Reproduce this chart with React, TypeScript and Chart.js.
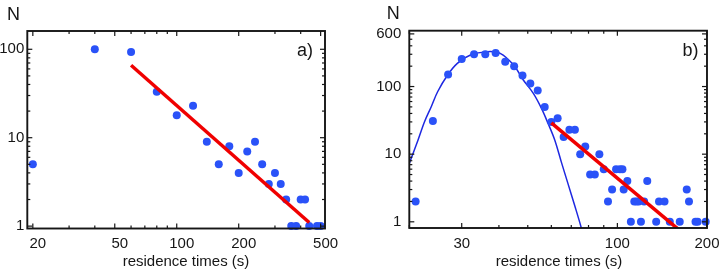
import React, { useEffect, useRef } from 'react';
import { Chart, registerables } from 'chart.js';
Chart.register(...registerables);

// ---------- Panel a) ----------
const aTimes = [20, 40, 60, 80, 100, 120, 140, 160, 180, 200, 220, 240, 260, 280, 300, 320, 340, 360, 380, 400, 420, 440, 480, 500];
const aCounts = [5, 100, 93, 33, 18, 23, 9, 5, 8, 4, 7, 9, 5, 3, 4, 3, 2, 1, 1, 2, 2, 1, 1, 1];
const aFitTimes = [60, 440];
const aFitCounts = [66, 1.1];
const aXTicks = [20, 50, 100, 200, 500];
const aYTicks = [1, 10, 100];

// ---------- Panel b) ----------
const bTimes = [21, 24, 27, 30, 33, 36, 39, 42, 45, 48, 51, 54, 57, 60, 63, 66, 69, 72, 75, 78, 81, 84, 87, 90, 93, 96, 99, 102, 104, 105, 108, 111, 114, 116, 118, 120, 123, 126, 135, 138, 144, 150, 162, 171, 174, 183, 186, 198];
const bCounts = [2, 31, 150, 255, 300, 300, 313, 233, 200, 146, 111, 87, 50, 30, 34, 18, 23, 23, 10, 13, 5, 5, 10, 6, 2, 3, 6, 6, 6, 3, 4, 1, 2, 2, 2, 1, 2, 4, 1, 2, 2, 1, 1, 3, 2, 1, 1, 1];
const bCurveTimes = [20, 21.4, 22.5, 23.7, 24.9, 26.9, 29.0, 32.1, 36.5, 40.4, 44.8, 48.3, 52.2, 55.6, 58.5, 61.6, 64.8, 68.2, 71.8, 75.5, 76.5];
const bCurveCounts = [7.3, 16.2, 30.2, 50.3, 83.8, 148, 220, 292, 327, 310, 208, 125, 79.3, 47.6, 28.5, 16.2, 7.7, 3.7, 1.77, 0.84, 0.65];
const bFitTimes = [60, 160];
const bFitCounts = [29, 0.78];
const bXTicks = [30, 100, 200];
const bYTicks = [1, 10, 100, 600];

const FONT = "'Liberation Sans', Arial, Helvetica, sans-serif";
const BLUE = 'rgb(42, 82, 248)';
const CURVE = 'rgb(30, 40, 225)';
const RED = 'rgb(240, 0, 0)';
const INK = '#161616';

const pairs = (xs: number[], ys: number[]) => xs.map((x, i) => ({ x, y: ys[i] }));

function logSteps(min: number, max: number) {
  const out: number[] = [];
  for (let d = 1; d <= 10000; d *= 10) {
    for (let m = 1; m <= 9; m++) {
      const v = m * d;
      if (v >= min * 0.999 && v <= max * 1.001) out.push(v);
    }
  }
  return out;
}

const framePlugin = {
  id: 'frame',
  afterDatasetsDraw(chart: any, _args: any, opts: any) {
    const { ctx, chartArea: a, scales } = chart;
    const xs = scales.x, ys = scales.y;
    ctx.save();
    ctx.strokeStyle = INK;
    const seg = (x1: number, y1: number, x2: number, y2: number) => {
      ctx.beginPath(); ctx.moveTo(x1, y1); ctx.lineTo(x2, y2); ctx.stroke();
    };
    ctx.lineWidth = 1.2;
    logSteps(xs.min, xs.max).forEach((v) => {
      const x = xs.getPixelForValue(v);
      const len = opts.xMajor.includes(v) ? 5 : 3;
      seg(x, a.bottom, x, a.bottom - len);
      seg(x, a.top, x, a.top + len);
    });
    logSteps(ys.min, ys.max).forEach((v) => {
      const y = ys.getPixelForValue(v);
      const len = opts.yMajor.includes(v) ? 5 : 3;
      seg(a.left, y, a.left + len, y);
      seg(a.right, y, a.right - len, y);
    });
    ctx.lineWidth = 1.9;
    ctx.strokeRect(a.left, a.top, a.right - a.left, a.bottom - a.top);
    ctx.restore();
  },
};

const textPlugin = {
  id: 'texts',
  afterDraw(chart: any, _args: any, opts: any) {
    const { ctx } = chart;
    ctx.save();
    ctx.fillStyle = INK;
    ctx.textBaseline = 'alphabetic';
    (opts.items || []).forEach((t: any) => {
      ctx.font = `${t.size}px ${FONT}`;
      ctx.textAlign = t.align || 'left';
      ctx.fillText(t.text, t.x, t.y);
    });
    ctx.restore();
  },
};

function makeConfig(p: any) {
  return {
    type: 'scatter',
    data: {
      datasets: [
        {
          data: pairs(p.fitX, p.fitY), showLine: true, borderColor: RED, borderWidth: 3.5,
          pointRadius: 0, clip: 0, tension: 0,
        },
        {
          data: pairs(p.ptX, p.ptY), showLine: false, pointRadius: 4, pointHoverRadius: 4,
          backgroundColor: BLUE, borderColor: BLUE, borderWidth: 0, clip: false,
        },
        ...(p.curveX
          ? [{
              data: pairs(p.curveX, p.curveY), showLine: true, borderColor: CURVE, borderWidth: 1.5,
              pointRadius: 0, clip: 0, tension: 0.35,
            }]
          : []),
      ],
    },
    options: {
      responsive: false,
      animation: false,
      events: [],
      layout: { padding: { left: 0, right: p.padRight, top: p.top, bottom: 0 } },
      plugins: {
        legend: { display: false },
        tooltip: { enabled: false },
        frame: { xMajor: p.xTicks, yMajor: p.yTicks },
        texts: { items: p.texts },
      },
      scales: {
        x: {
          type: 'logarithmic', min: p.xMin, max: p.xMax,
          grid: { display: false, drawTicks: false }, border: { display: false },
          afterBuildTicks: (s: any) => { s.ticks = p.xTicks.map((v: number) => ({ value: v })); },
          afterFit: (s: any) => { s.height = p.xHeight; },
          ticks: {
            autoSkip: false, maxRotation: 0, minRotation: 0, padding: 6.5, labelOffset: p.xLabelOffset,
            color: INK, font: { family: FONT, size: 15 }, callback: (v: any) => String(v),
          },
        },
        y: {
          type: 'logarithmic', min: p.yMin, max: p.yMax,
          grid: { display: false, drawTicks: false }, border: { display: false },
          afterBuildTicks: (s: any) => { s.ticks = p.yTicks.map((v: number) => ({ value: v })); },
          afterFit: (s: any) => { s.width = p.yWidth; },
          ticks: {
            autoSkip: false, padding: p.yPad,
            color: INK, font: { family: FONT, size: 15 }, callback: (v: any) => String(v),
          },
        },
      },
    },
  };
}

const panelA = makeConfig({
  fitX: aFitTimes, fitY: aFitCounts, ptX: aTimes, ptY: aCounts,
  xTicks: aXTicks, yTicks: aYTicks,
  xMin: 18.8, xMax: 525, yMin: 0.94, yMax: 161,
  padRight: 38, top: 31, xHeight: 46.5, yWidth: 27.3, yPad: 3, xLabelOffset: 5,
  texts: [
    { text: 'N', x: 7, y: 19.5, size: 18 },
    { text: 'a)', x: 297, y: 55.5, size: 18 },
    { text: 'residence times (s)', x: 186, y: 265.5, size: 15, align: 'center' },
  ],
});

const panelB = makeConfig({
  fitX: bFitTimes, fitY: bFitCounts, ptX: bTimes, ptY: bCounts,
  curveX: bCurveTimes, curveY: bCurveCounts,
  xTicks: bXTicks, yTicks: bYTicks,
  xMin: 20, xMax: 200, yMin: 0.81, yMax: 669,
  padRight: 15, top: 30.7, xHeight: 47, yWidth: 46.3, yPad: 8, xLabelOffset: 0,
  texts: [
    { text: 'N', x: 23.7, y: 18.5, size: 18 },
    { text: 'b)', x: 319.5, y: 56, size: 18 },
    { text: 'residence times (s)', x: 196, y: 265.5, size: 15, align: 'center' },
  ],
});

function Panel({ config, left }: { config: any; left: number }) {
  const ref = useRef<HTMLCanvasElement>(null);
  useEffect(() => {
    const chart = new Chart(ref.current as HTMLCanvasElement, {
      ...config,
      plugins: [framePlugin, textPlugin],
    } as any);
    return () => chart.destroy();
  }, [config]);
  return (
    <canvas
      ref={ref}
      width={363}
      height={275}
      style={{ position: 'absolute', left, top: 0, width: 363, height: 275 }}
    />
  );
}

export default function App() {
  return (
    <div style={{ position: 'absolute', left: 0, top: 0, width: 726, height: 275, background: '#fff', overflow: 'hidden' }}>
      <Panel config={panelA} left={0} />
      <Panel config={panelB} left={363} />
    </div>
  );
}
